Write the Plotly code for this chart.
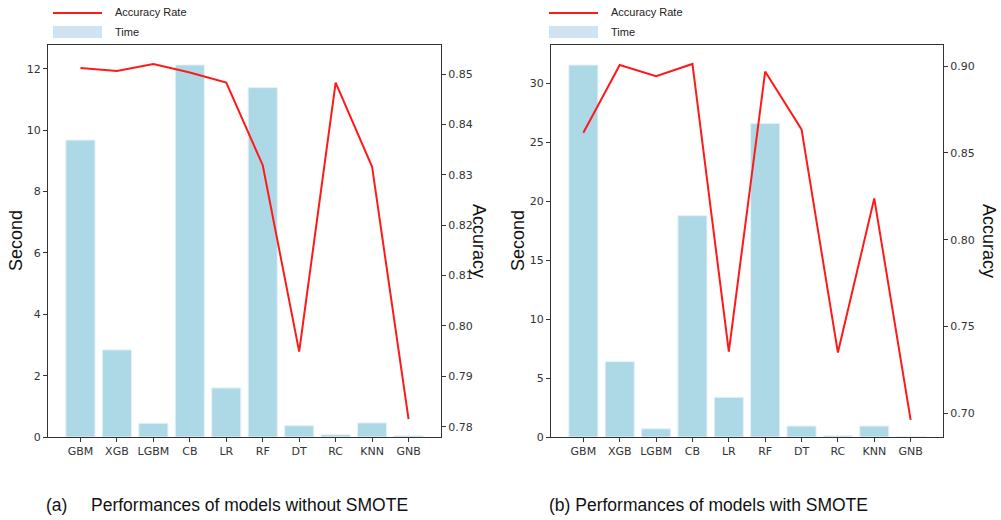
import plotly.graph_objects as go

models = ["GBM", "XGB", "LGBM", "CB", "LR", "RF", "DT", "RC", "KNN", "GNB"]
time_no_smote = [9.68, 2.84, 0.45, 12.13, 1.6, 11.39, 0.37, 0.075, 0.46, 0.04]
acc_no_smote = [0.8512, 0.8506, 0.8520, 0.8503, 0.8483, 0.8319, 0.7949, 0.8483, 0.8316, 0.7815]
time_smote = [31.55, 6.39, 0.70, 18.77, 3.37, 26.6, 0.93, 0.1, 0.93, 0.05]
acc_smote = [0.8616, 0.9006, 0.8942, 0.9012, 0.7355, 0.8968, 0.8635, 0.7350, 0.8238, 0.6963]

BAR = "#ADD8E6"
LINE = "#FF1A1A"
AX = "#333333"
TICKFONT = dict(family="DejaVu Sans", size=11, color="#333333")
TITLEFONT = dict(family="Liberation Sans, Arial", size=18, color="#111111")

fig = go.Figure()
fig.add_trace(go.Bar(x=models, y=time_no_smote, marker=dict(color=BAR, line=dict(color="#e6f2f7", width=1)),
                     width=0.8, xaxis="x", yaxis="y", showlegend=False))
fig.add_trace(go.Scatter(x=models, y=acc_no_smote, mode="lines", line=dict(color=LINE, width=2),
                         xaxis="x", yaxis="y2", showlegend=False))
fig.add_trace(go.Bar(x=models, y=time_smote, marker=dict(color=BAR, line=dict(color="#e6f2f7", width=1)),
                     width=0.8, xaxis="x2", yaxis="y3", showlegend=False))
fig.add_trace(go.Scatter(x=models, y=acc_smote, mode="lines", line=dict(color=LINE, width=2),
                         xaxis="x2", yaxis="y4", showlegend=False))

ydom = [(520 - 437) / 520, (520 - 45) / 520]
xdom1 = [48 / 1001, 441 / 1001]
xdom2 = [551 / 1001, 943 / 1001]

xcommon = dict(range=[-0.89, 9.89], showline=True, linecolor=AX, linewidth=1, mirror=True,
               ticks="outside", ticklen=4, tickcolor=AX, tickfont=TICKFONT, showgrid=False,
               zeroline=False, automargin=False)
ycommon = dict(showline=True, linecolor=AX, linewidth=1, ticks="outside", ticklen=4, tickcolor=AX,
               tickfont=TICKFONT, showgrid=False, zeroline=False, automargin=False)

fig.update_layout(
    width=1001, height=520, margin=dict(l=0, r=0, t=0, b=0, autoexpand=False),
    paper_bgcolor="white", plot_bgcolor="white", showlegend=False, bargap=0.2,
    xaxis=dict(domain=xdom1, anchor="y", **xcommon),
    yaxis=dict(domain=ydom, anchor="x", range=[0, 12.78], tickvals=[0, 2, 4, 6, 8, 10, 12], **ycommon),
    yaxis2=dict(overlaying="y", side="right", anchor="x", range=[0.77796, 0.85576],
                tickvals=[0.78, 0.79, 0.80, 0.81, 0.82, 0.83, 0.84, 0.85], tickformat=".2f", **ycommon),
    xaxis2=dict(domain=xdom2, anchor="y3", **xcommon),
    yaxis3=dict(domain=ydom, anchor="x2", range=[0, 33.25], tickvals=[0, 5, 10, 15, 20, 25, 30], **ycommon),
    yaxis4=dict(overlaying="y3", side="right", anchor="x2", range=[0.6864, 0.9121],
                tickvals=[0.70, 0.75, 0.80, 0.85, 0.90], tickformat=".2f", **ycommon),
)

shapes = []
annotations = []
# manual legends (matplotlib-style) above each panel
for x0 in (53, 549):
    shapes.append(dict(type="line", xref="paper", yref="paper",
                       x0=x0 / 1001, x1=(x0 + 49) / 1001, y0=1 - 13 / 520, y1=1 - 13 / 520,
                       line=dict(color=LINE, width=2)))
    shapes.append(dict(type="rect", xref="paper", yref="paper",
                       x0=x0 / 1001, x1=(x0 + 49) / 1001, y0=1 - 38 / 520, y1=1 - 26 / 520,
                       fillcolor="#cfe3f3", line=dict(width=0)))
    annotations.append(dict(text="Accuracy Rate", xref="paper", yref="paper", x=(x0 + 60) / 1001,
                            y=1 - 12 / 520, xanchor="left", yanchor="middle", showarrow=False,
                            font=dict(family="Liberation Sans, Arial", size=11, color="#222222")))
    annotations.append(dict(text="Time", xref="paper", yref="paper", x=(x0 + 60) / 1001,
                            y=1 - 32 / 520, xanchor="left", yanchor="middle", showarrow=False,
                            font=dict(family="Liberation Sans, Arial", size=11, color="#222222")))

# axis titles
ymid = 1 - 241 / 520
for xc, txt, ang in ((16, "Second", -90), (479, "Accuracy", 90), (518, "Second", -90), (989, "Accuracy", 90)):
    annotations.append(dict(text=txt, xref="paper", yref="paper", x=xc / 1001, y=ymid,
                            xanchor="center", yanchor="middle", textangle=ang, showarrow=False,
                            font=TITLEFONT))

capfont = dict(family="Liberation Sans, Arial", size=17.5, color="#111111")
annotations.append(dict(text="(a)", xref="paper", yref="paper", x=44 / 1001, y=1 - 505 / 520,
                        xanchor="left", yanchor="middle", showarrow=False, font=capfont))
annotations.append(dict(text="Performances of models without SMOTE", xref="paper", yref="paper",
                        x=89 / 1001, y=1 - 505 / 520, xanchor="left", yanchor="middle",
                        showarrow=False, font=capfont))
annotations.append(dict(text="(b) Performances of models with SMOTE", xref="paper", yref="paper",
                        x=547 / 1001, y=1 - 505 / 520, xanchor="left", yanchor="middle",
                        showarrow=False, font=capfont))

fig.update_layout(shapes=shapes, annotations=annotations)
fig.write_html("out.html")
